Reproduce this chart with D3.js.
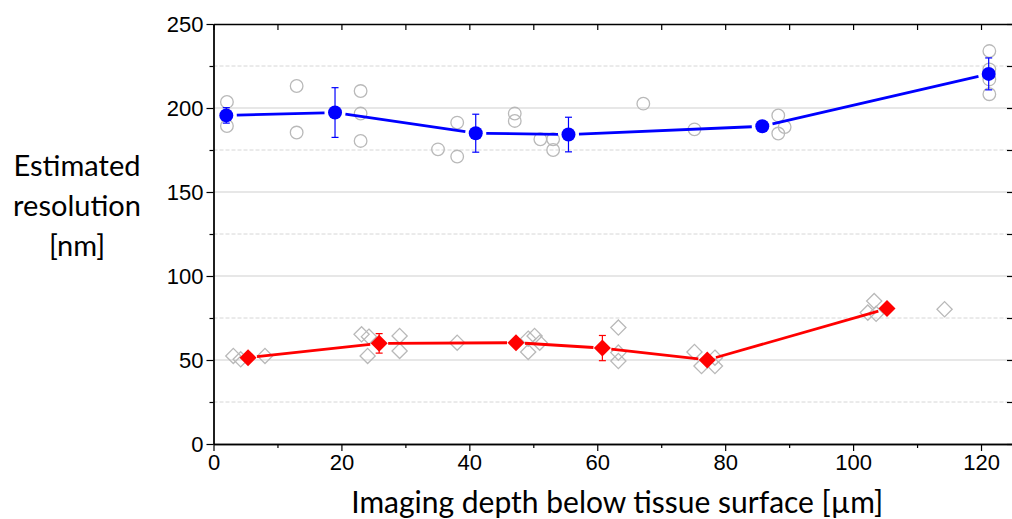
<!DOCTYPE html>
<html>
<head>
<meta charset="utf-8">
<script src="https://cdn.jsdelivr.net/npm/d3@7"></script>
<style>
  body { margin: 0; background: #fff; }
  svg { display: block; font-family: Lato, "Open Sans", sans-serif; }
</style>
</head>
<body>
<div class="chart"></div>
<script>
// mean values (filled markers) with error bars
const blueDepth = [2, 19, 41, 55.5, 85.8, 121.2];
const blueMean  = [195.6, 197.3, 185, 184.2, 189.1, 220.3];
const blueErr   = [4.6, 14.8, 11.3, 10.3, 3, 9.5];

const redDepth = [5.4, 25.9, 47.3, 60.8, 77.2, 105.3];
const redMean  = [51.4, 59.9, 60.3, 57.1, 50, 80.6];
const redErr   = [1.5, 5.8, 1.5, 7.5, 1.5, 1.5];

// individual measurements (open gray markers)
const circleDepth = [2.1, 2.1, 13, 13, 23, 23, 23, 35.1, 38.1, 38.1, 47.1, 47.1, 51.1, 53.1, 53.1, 67.2, 75.2, 88.3, 89.3, 88.3, 121.3, 121.3, 121.3, 121.3];
const circleRes   = [203.6, 189.3, 213.1, 185.4, 210.1, 196.7, 180.4, 175.4, 191.3, 171.1, 196.7, 192.3, 181.4, 181.4, 175, 202.6, 187.3, 195.6, 188.7, 184.8, 233.9, 223, 217, 208.2];

const diamondDepth = [3.1, 4.25, 8.05, 23.15, 24.3, 24.1, 29.1, 29.1, 38.1, 49.2, 50.2, 51, 49.2, 63.3, 63.3, 63.3, 75.2, 76.3, 78.4, 78.4, 103.3, 102.3, 103.6, 114.3];
const diamondRes   = [52.4, 50.4, 52.4, 65.3, 63.9, 52.4, 64.3, 55.4, 60.3, 62.7, 64.3, 60.3, 54.8, 69.3, 54.4, 49.4, 54.8, 46.4, 51.4, 46.4, 85.1, 78.2, 77.5, 80.2];

const yTicks = [0, 50, 100, 150, 200, 250];
const yMinor = [25, 75, 125, 175, 225];
const xTicks = [0, 20, 40, 60, 80, 100, 120];
const xMinor = [10, 30, 50, 70, 90, 110];

const margin = ({top: 24, right: -1, bottom: 75, left: 213.5});
const W = 1012, H = 519;
const width = W - margin.left - margin.right, height = H - margin.top - margin.bottom;

const svg = d3.select('.chart').append('svg')
    .attr('width', W).attr('height', H);
const g = svg.append('g').attr('transform', `translate(${margin.left},${margin.top})`);

const x = d3.scaleLinear().domain([0, 125]).range([0, width]);
const y = d3.scaleLinear().domain([0, 250]).range([height, 0]);

// grid
g.selectAll('.grid-major').data(yTicks.filter(d => d > 0 && d < 250)).enter()
  .append('line')
  .attr('x1', 0).attr('x2', width)
  .attr('y1', d => y(d)).attr('y2', d => y(d))
  .attr('stroke', '#cfcfcf').attr('stroke-width', 1);
g.selectAll('.grid-minor').data(yMinor).enter()
  .append('line')
  .attr('x1', 0).attr('x2', width)
  .attr('y1', d => y(d)).attr('y2', d => y(d))
  .attr('stroke', '#d6d6d6').attr('stroke-width', 1)
  .attr('stroke-dasharray', '4,2');

// axes
function styleAxis(sel) {
  sel.select('.domain').attr('stroke', '#000').attr('stroke-width', 1.3);
  sel.selectAll('.tick line').attr('stroke', '#000').attr('stroke-width', 1.2);
  sel.selectAll('text').attr('font-size', 22).attr('fill', '#000');
}

g.append('g').attr('transform', `translate(0,${height})`)
  .call(d3.axisBottom(x).tickValues(xMinor).tickSize(4).tickFormat('').tickSizeOuter(0))
  .call(styleAxis);
g.append('g').attr('transform', `translate(0,${height})`)
  .call(d3.axisBottom(x).tickValues(xTicks).tickSize(7).tickPadding(3).tickSizeOuter(0))
  .call(styleAxis);

g.append('g')
  .call(d3.axisTop(x).tickValues(xMinor.concat(xTicks)).tickSize(-6).tickFormat('').tickSizeOuter(0))
  .call(styleAxis);

g.append('g')
  .call(d3.axisLeft(y).tickValues(yMinor).tickSize(4).tickFormat('').tickSizeOuter(0))
  .call(styleAxis);
g.append('g')
  .call(d3.axisLeft(y).tickValues(yTicks).tickSize(7).tickPadding(3).tickSizeOuter(0))
  .call(styleAxis);

g.append('g').attr('transform', `translate(${width},0)`)
  .call(d3.axisRight(y).tickValues(yTicks.concat(yMinor)).tickSize(-6).tickFormat('').tickSizeOuter(0))
  .call(styleAxis);

// individual measurements
g.selectAll('.pt-circle').data(circleDepth).enter()
  .append('circle')
  .attr('cx', d => x(d))
  .attr('cy', (d, i) => y(circleRes[i]))
  .attr('r', 6.3)
  .attr('fill', 'none')
  .attr('stroke', '#b9b9b9').attr('stroke-width', 1.3);

const diamondPath = s => `M0,${-s}L${s},0L0,${s}L${-s},0Z`;
g.selectAll('.pt-diamond').data(diamondDepth).enter()
  .append('path')
  .attr('d', diamondPath(7.6))
  .attr('transform', (d, i) => `translate(${x(d)},${y(diamondRes[i])})`)
  .attr('fill', 'none')
  .attr('stroke', '#b9b9b9').attr('stroke-width', 1.3);

// mean series
function drawSeries(depth, mean, err, color, markerSize, gap, shape) {
  const pts = depth.map((d, i) => [x(d), y(mean[i])]);
  // connecting line with small gaps at markers
  for (let i = 0; i < pts.length - 1; i++) {
    const [x0, y0] = pts[i], [x1, y1] = pts[i + 1];
    const len = Math.hypot(x1 - x0, y1 - y0);
    const ux = (x1 - x0) / len, uy = (y1 - y0) / len;
    g.append('line')
      .attr('x1', x0 + ux * gap).attr('y1', y0 + uy * gap)
      .attr('x2', x1 - ux * gap).attr('y2', y1 - uy * gap)
      .attr('stroke', color).attr('stroke-width', 2.8);
  }
  // error bars
  const eb = g.append('g');
  depth.forEach((d, i) => {
    const cx = x(d), top = y(mean[i] + err[i]), bot = y(mean[i] - err[i]);
    eb.append('line').attr('x1', cx).attr('x2', cx).attr('y1', top).attr('y2', bot)
      .attr('stroke', color).attr('stroke-width', 1.2);
    [top, bot].forEach(v => eb.append('line')
      .attr('x1', cx - 3.5).attr('x2', cx + 3.5).attr('y1', v).attr('y2', v)
      .attr('stroke', color).attr('stroke-width', 1.2));
  });
  // markers
  if (shape === 'circle') {
    g.selectAll(null).data(pts).enter().append('circle')
      .attr('cx', p => p[0]).attr('cy', p => p[1])
      .attr('r', markerSize).attr('fill', color);
  } else {
    g.selectAll(null).data(pts).enter().append('path')
      .attr('d', diamondPath(markerSize))
      .attr('transform', p => `translate(${p[0]},${p[1]})`)
      .attr('fill', color);
  }
}

drawSeries(blueDepth, blueMean, blueErr, '#0000ff', 7, 10.5, 'circle');
drawSeries(redDepth, redMean, redErr, '#ff0000', 8.5, 9, 'diamond');

// axis titles
svg.append('text')
  .attr('x', margin.left + width / 2 + 4).attr('y', 513)
  .attr('text-anchor', 'middle')
  .attr('font-size', 30)
  .text('Imaging depth below tissue surface [µm]');

const yLabel = svg.append('text')
  .attr('text-anchor', 'middle')
  .attr('font-size', 29);
['Estimated', 'resolution', '[nm]'].forEach((t, i) => {
  yLabel.append('tspan').attr('x', 77).attr('y', 176 + i * 40).text(t);
});
</script>
</body>
</html>
